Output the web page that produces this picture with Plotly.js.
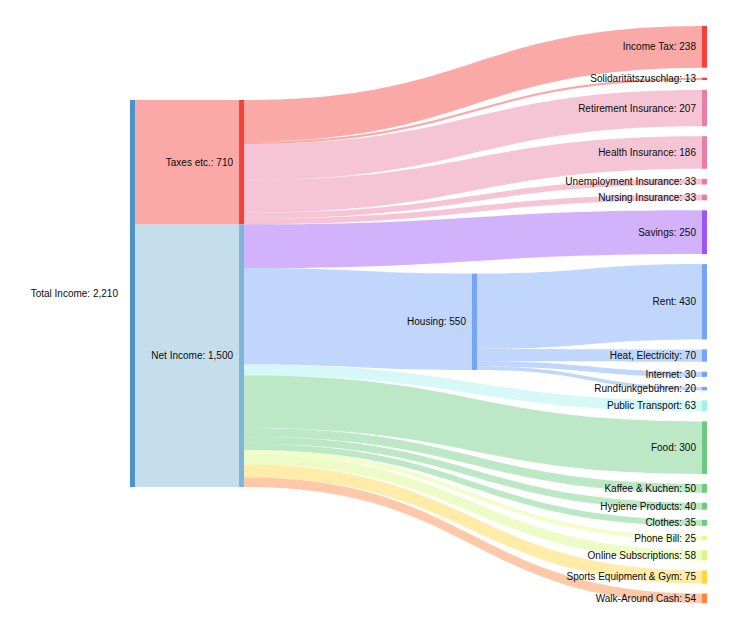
<!DOCTYPE html>
<html>
<head>
<meta charset="utf-8">
<script src="https://cdn.plot.ly/plotly-3.0.1.min.js"></script>
<style>body{margin:0;background:#fff;} #chart{width:740px;height:630px;}</style>
</head>
<body>
<div id="chart"></div>
<script>
// ---- data ----
const nodeLabels = ["Total Income","Taxes etc.","Net Income","Income Tax","Solidaritätszuschlag","Retirement Insurance","Health Insurance","Unemployment Insurance","Nursing Insurance","Savings","Housing","Rent","Heat, Electricity","Internet","Rundfunkgebühren","Public Transport","Food","Kaffee & Kuchen","Hygiene Products","Clothes","Phone Bill","Online Subscriptions","Sports Equipment & Gym","Walk-Around Cash"];
const linkSource = ["Total Income","Total Income","Taxes etc.","Taxes etc.","Taxes etc.","Taxes etc.","Taxes etc.","Taxes etc.","Net Income","Net Income","Housing","Housing","Housing","Housing","Net Income","Net Income","Net Income","Net Income","Net Income","Net Income","Net Income","Net Income","Net Income"];
const linkTarget = ["Taxes etc.","Net Income","Income Tax","Solidaritätszuschlag","Retirement Insurance","Health Insurance","Unemployment Insurance","Nursing Insurance","Savings","Housing","Rent","Heat, Electricity","Internet","Rundfunkgebühren","Public Transport","Food","Kaffee & Kuchen","Hygiene Products","Clothes","Phone Bill","Online Subscriptions","Sports Equipment & Gym","Walk-Around Cash"];
const linkValue = [710,1500,238,13,207,186,33,33,250,550,430,70,30,20,63,300,50,40,35,25,58,75,54];
const nodeColors = ["#4b93c9","#f6403a","#7fb5d8","#f6403a","#f6403a","#e87ea3","#e87ea3","#e87ea3","#e87ea3","#9d55f8","#74a3f8","#74a3f8","#74a3f8","#74a3f8","#74a3f8","#a3efec","#6ccb7e","#6ccb7e","#6ccb7e","#6ccb7e","#e3fb88","#d8f883","#fdd53d","#fd8541"];

// ---- layout style settings ----
const W = 740, H = 630;
const padTop = 26, plotH = 577;          // sankey domain (px)
const nodePad = 10, nodeThick = 5;
const columnX = [0.179, 0.3264, 0.6412, 0.952]; // column centres as fraction of width
const mainBlockOffset = 74;              // offset of first two columns below domain top (px)
const labelGap = [12, 6, 6, 6];          // label gap to the left of node, per column

const idx = {}; nodeLabels.forEach((n,i)=>idx[n]=i);
function fmt(v){return v.toLocaleString('en-US');}
function rgba(hex, a){
  const r=parseInt(hex.slice(1,3),16),g=parseInt(hex.slice(3,5),16),b=parseInt(hex.slice(5,7),16);
  return `rgba(${r},${g},${b},${a})`;
}
const N = nodeLabels.length;
const inSum = new Array(N).fill(0), outSum = new Array(N).fill(0);
linkValue.forEach((v,j)=>{ inSum[idx[linkTarget[j]]]+=v; outSum[idx[linkSource[j]]]+=v; });
const nodeTotals = nodeLabels.map((n,i)=>Math.max(inSum[i],outSum[i]));

// depth of each node
const depth = new Array(N).fill(0);
for(let it=0; it<N; it++){
  linkValue.forEach((v,j)=>{
    const s=idx[linkSource[j]], t=idx[linkTarget[j]];
    depth[t] = Math.max(depth[t], depth[s]+1);
  });
}
const isLeaf = nodeLabels.map((n,i)=>outSum[i]===0);
const lastCol = columnX.length-1;
const col = nodeLabels.map((n,i)=>isLeaf[i]?lastCol:depth[i]);

// vertical scale (same rule the library uses: tallest column fills the height)
const leaves = nodeLabels.map((n,i)=>i).filter(i=>isLeaf[i]);
const grand = leaves.reduce((a,i)=>a+nodeTotals[i],0);
const ky = (plotH - (leaves.length-1)*nodePad)/grand;

const nodeTop = new Array(N).fill(0);
// leaves stacked in order
let cur = 0;
leaves.forEach(i=>{ nodeTop[i]=cur; cur += nodeTotals[i]*ky + nodePad; });
// first two columns: stacked without gap
[0,1].forEach(c=>{
  let y = mainBlockOffset;
  nodeLabels.forEach((n,i)=>{ if(col[i]===c && !isLeaf[i]){ nodeTop[i]=y; y+=nodeTotals[i]*ky; } });
});
// intermediate column: centred between its inflow position and its children
nodeLabels.forEach((n,i)=>{
  if(col[i]!==2 || isLeaf[i]) return;
  let inCenter = 0;
  linkValue.forEach((v,j)=>{
    if(idx[linkTarget[j]]!==i) return;
    const s = idx[linkSource[j]];
    let off = 0;
    for(let k=0;k<j;k++) if(idx[linkSource[k]]===s) off += linkValue[k];
    inCenter = nodeTop[s] + (off + v/2)*ky;
  });
  let lo=Infinity, hi=-Infinity;
  linkValue.forEach((v,j)=>{
    if(idx[linkSource[j]]!==i) return;
    const t=idx[linkTarget[j]];
    lo=Math.min(lo,nodeTop[t]); hi=Math.max(hi,nodeTop[t]+nodeTotals[t]*ky);
  });
  const center = (inCenter + (lo+hi)/2)/2;
  nodeTop[i] = center - nodeTotals[i]*ky/2;
});
const nodeX = col.map(c=>columnX[c]);
const nodeY = nodeLabels.map((n,i)=>(nodeTop[i]+nodeTotals[i]*ky/2)/plotH);

const trace = {
  type:'sankey',
  orientation:'h',
  arrangement:'fixed',
  domain:{x:[0,1],y:[1-(padTop+plotH)/H, 1-padTop/H]},
  valueformat:',d',
  node:{
    label: nodeLabels.map((n,i)=>n+': '+fmt(nodeTotals[i])),
    color: nodeColors,
    x: nodeX,
    y: nodeY,
    pad: nodePad,
    thickness: nodeThick,
    line:{width:0}
  },
  link:{
    source: linkSource.map(s=>idx[s]),
    target: linkTarget.map(t=>idx[t]),
    value: linkValue,
    color: linkTarget.map(t=>rgba(nodeColors[idx[t]],0.45)),
    line:{width:0}
  },
  textfont:{family:'Liberation Sans, Arial, sans-serif',size:10,color:'#0a0a0a',shadow:'none'}
};
function placeLabelsLeft(){
  document.querySelectorAll('.node-label').forEach(el=>{
    el.setAttribute('text-anchor','end');
    el.style.textShadow='none';
    let gap = 6;
    const d = el.__data__;
    if(d && d.node && typeof d.node.pointNumber === 'number') gap = labelGap[col[d.node.pointNumber]];
    const tr = el.getAttribute('transform')||'';
    const m = tr.match(/translate\(\s*([-\d.e]+)[ ,]+([-\d.e]+)\s*\)/);
    if(m){ el.setAttribute('transform', tr.replace(m[0], `translate(${-gap},${m[2]})`)); }
  });
}
Plotly.newPlot('chart',[trace],{width:W,height:H,margin:{l:0,r:0,t:0,b:0},paper_bgcolor:'#fff',font:{family:'Liberation Sans, Arial, sans-serif',size:10}},{displayModeBar:false,staticPlot:true})
  .then(()=>{ placeLabelsLeft(); setTimeout(placeLabelsLeft,50); setTimeout(placeLabelsLeft,300); });
</script>
</body>
</html>
